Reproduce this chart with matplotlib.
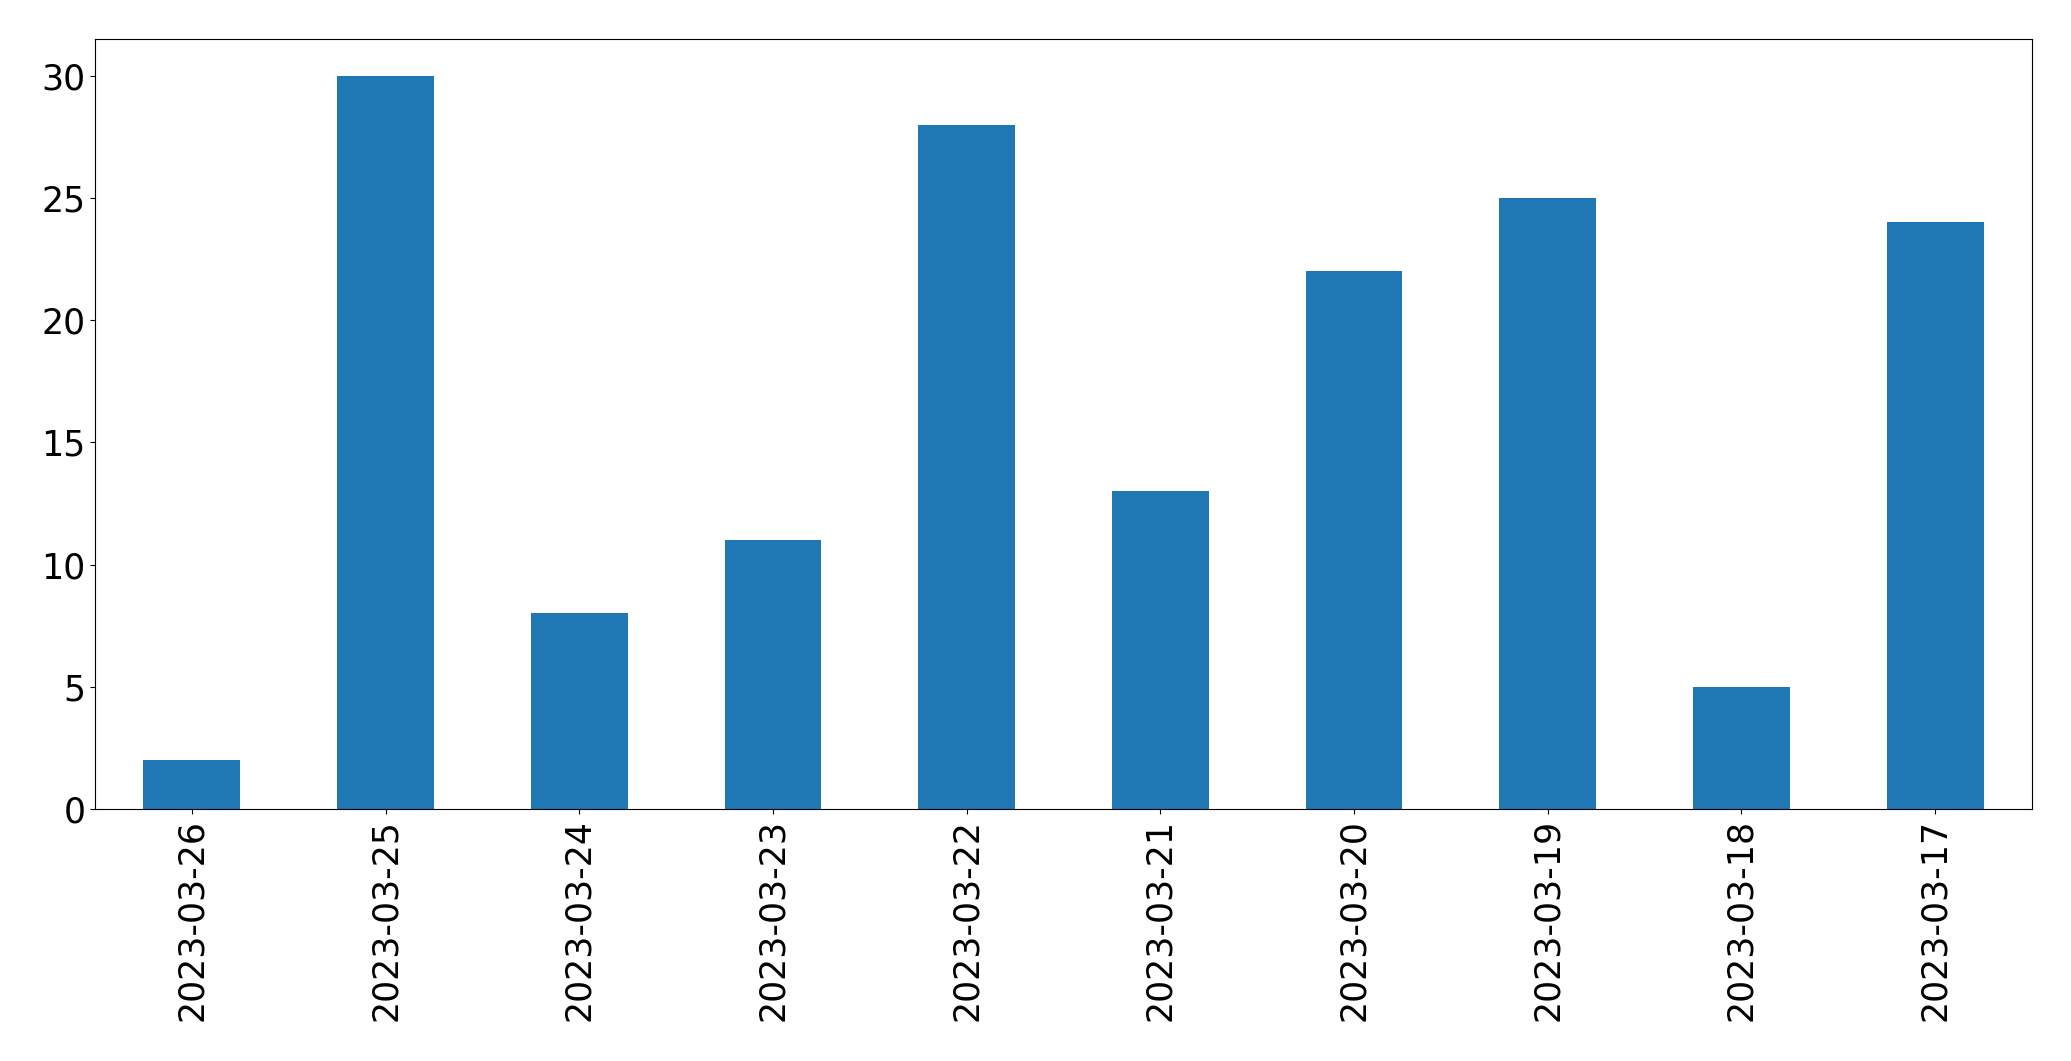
import matplotlib
matplotlib.use("Agg")
import matplotlib.pyplot as plt
import numpy as np

dates = ["2023-03-26", "2023-03-25", "2023-03-24", "2023-03-23", "2023-03-22",
         "2023-03-21", "2023-03-20", "2023-03-19", "2023-03-18", "2023-03-17"]
counts = [2, 30, 8, 11, 28, 13, 22, 25, 5, 24]

fig = plt.figure(figsize=(20.71, 10.61), dpi=100)
ax = fig.add_axes([95/2071, 1-809/1061, (2032-95)/2071, (809-39)/1061])
x = np.arange(len(dates))
ax.bar(x, counts, width=0.5, color="#1f77b4")
ax.set_xlim(-0.5, len(dates) - 0.5)
ax.set_ylim(0, max(counts) * 1.05)
ax.set_xticks(x)
ax.set_xticklabels(dates, rotation=90, fontsize=25)
ax.set_yticks([0, 5, 10, 15, 20, 25, 30])
ax.tick_params(axis="y", labelsize=25)
fig.savefig("out.png", dpi=100)
